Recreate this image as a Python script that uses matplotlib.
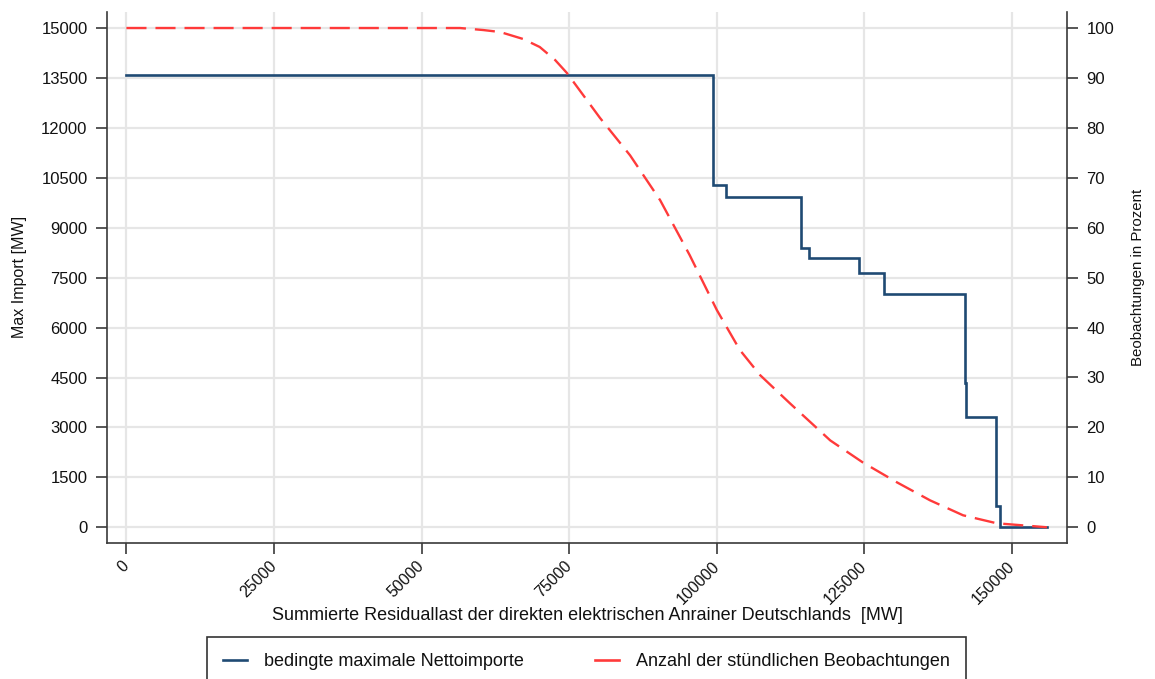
import matplotlib
matplotlib.use("Agg")
import matplotlib.pyplot as plt
from matplotlib.lines import Line2D

plt.rcParams["font.family"] = ["Liberation Sans", "DejaVu Sans"]

# Conditional maximum net imports (step function), MW
residual_load_steps = [0, 99290, 101540, 114310, 115650, 124060, 128290,
                       142000, 142170, 147250, 147920, 155880]
max_import = [13580, 10290, 9910, 8390, 8100, 7650, 7010,
              4320, 3310, 640, 0, 0]

# Share of hourly observations (percent) above each residual load level
residual_load_obs = [0, 56500, 60400, 63300, 67200, 70000, 72600, 74600,
                     80200, 85300, 90400, 95400, 100000, 103900, 107300,
                     112400, 119200, 124700, 130500, 136100, 141700,
                     147400, 155900]
obs_percent = [100, 100, 99.6, 99.2, 97.8, 96.2, 93.6, 91.0,
               82.0, 74.5, 65.5, 54.5, 43.5, 35.5, 30.5,
               24.8, 17.4, 13.0, 9.0, 5.4, 2.4, 0.8, 0.0]

x_ticks = [0, 25000, 50000, 75000, 100000, 125000, 150000]
y_ticks = [0, 1500, 3000, 4500, 6000, 7500, 9000, 10500, 12000, 13500, 15000]
y2_ticks = [0, 10, 20, 30, 40, 50, 60, 70, 80, 90, 100]

label_blue = "bedingte maximale Nettoimporte"
label_red = "Anzahl der stündlichen Beobachtungen"

BLUE = "#1f4a73"
RED = "#ff3a3a"
SPINE = "#3a3a3a"
GRID = "#e6e6e6"
TEXT = "#111111"

W, H = 1155, 679
fig = plt.figure(figsize=(W / 100, H / 100), dpi=100)
fig.patch.set_facecolor("white")

left, right, bottom, top = 107 / W, 1067 / W, 1 - 543 / H, 1 - 11.7 / H
ax = fig.add_axes([left, bottom, right - left, top - bottom])
ax2 = ax.twinx()

ax.set_xlim(-3290, 159300)
ax.set_ylim(-472, 15490)
ax2.set_ylim(-3.15, 103.27)

ax.set_xticks(x_ticks)
ax.set_yticks(y_ticks)
ax2.set_yticks(y2_ticks)

ax.grid(True, color=GRID, linewidth=1.6)
ax.set_axisbelow(True)

ax.plot(residual_load_steps, max_import, drawstyle="steps-post",
        color=BLUE, linewidth=1.9, solid_joinstyle="miter")
ax2.plot(residual_load_obs, obs_percent, color=RED, linewidth=1.7,
         dashes=(8.5, 3.8))

for a in (ax, ax2):
    a.spines["top"].set_visible(False)
    for s in a.spines.values():
        s.set_color(SPINE)
        s.set_linewidth(1.2)
    a.tick_params(axis="both", direction="out", length=8, width=1.2,
                  color=SPINE, labelsize=12, labelcolor=TEXT, pad=6)

ax.spines["right"].set_visible(False)
ax2.spines["left"].set_visible(False)
ax2.spines["bottom"].set_visible(False)

ax.set_xticklabels([str(t) for t in x_ticks], rotation=45, ha="right",
                   va="center", rotation_mode="anchor", fontsize=11.5)
ax.tick_params(axis="x", pad=7)

ax.set_xlabel("Summierte Residuallast der direkten elektrischen Anrainer Deutschlands  [MW]",
              fontsize=13, color=TEXT, labelpad=0)
ax.set_ylabel("Max Import [MW]", fontsize=11.5, color=TEXT, labelpad=10)
ax2.set_ylabel("Beobachtungen in Prozent", fontsize=10.8, color=TEXT,
               labelpad=12)

handles = [Line2D([], [], color=BLUE, linewidth=1.9),
           Line2D([], [], color=RED, linewidth=1.9)]
leg = fig.legend(handles, [label_blue, label_red], loc="upper left",
                 bbox_to_anchor=(207 / W, 0, 759 / W, 1 - 637 / H),
                 mode="expand", ncol=2, frameon=True, fancybox=False,
                 edgecolor="black", fontsize=13, borderpad=0.9,
                 handlelength=1.3, handletextpad=0.95, borderaxespad=0)
leg.get_frame().set_linewidth(1.2)
for t in leg.get_texts():
    t.set_color(TEXT)

fig.savefig("out.png", dpi=100)
